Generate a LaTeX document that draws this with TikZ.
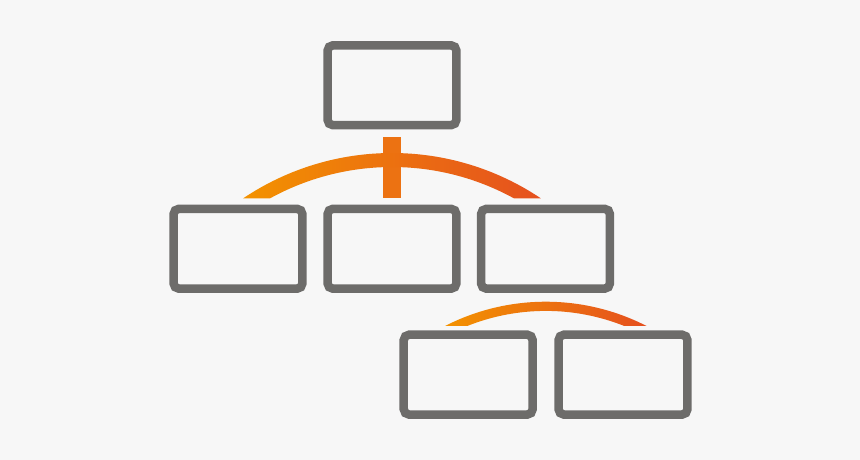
\documentclass[tikz,border=0pt]{standalone}
\usepackage{tikz}
\usetikzlibrary{calc}

\definecolor{bggray}{HTML}{F7F7F7}
\definecolor{boxgray}{HTML}{6D6C6A}
\definecolor{orgleft}{HTML}{F39200}
\definecolor{orgmid}{HTML}{EC7212}
\definecolor{orgright}{HTML}{E5501F}

\tikzset{
  orgbox/.style={draw=boxgray, line width=0.17cm, rounded corners=0.11cm,
    fill=bggray, minimum width=2.58cm, minimum height=1.6cm, inner sep=0pt}
}

\begin{document}
\begin{tikzpicture}[x=0.02cm, y=0.02cm]
  % background
  \fill[bggray] (0,0) rectangle (860,460);
  \useasboundingbox (0,0) rectangle (860,460);

  % boxes
  \node[orgbox] (top) at (392,374.75) {};
  \node[orgbox] (m1) at (238,211.25) {};
  \node[orgbox] (m2) at (392,211.25) {};
  \node[orgbox] (m3) at (545.5,211.25) {};
  \node[orgbox] (b1) at (468.2,85.35) {};
  \node[orgbox] (b2) at (623,85.35) {};

  % upper bracket
  \coordinate (c1) at (392,40);
  \fill[orgmid] (382.7,261.7) rectangle (401,322.7);
  \shade[left color=orgleft, right color=orgright]
    ($(c1)+(56.13:267)$) arc[start angle=56.13, end angle=123.87, radius=267]
    -- ($(c1)+(118.8:253)$) arc[start angle=118.8, end angle=61.2, radius=253]
    -- cycle;

  % lower bracket
  \coordinate (c2) at (545.8,-62.9);
  \shade[left color=orgleft, right color=orgright]
    ($(c2)+(62.9:221.2)$) arc[start angle=62.9, end angle=117.1, radius=221.2]
    -- ($(c2)+(111.75:212)$) arc[start angle=111.75, end angle=68.25, radius=212]
    -- cycle;
\end{tikzpicture}
\end{document}
